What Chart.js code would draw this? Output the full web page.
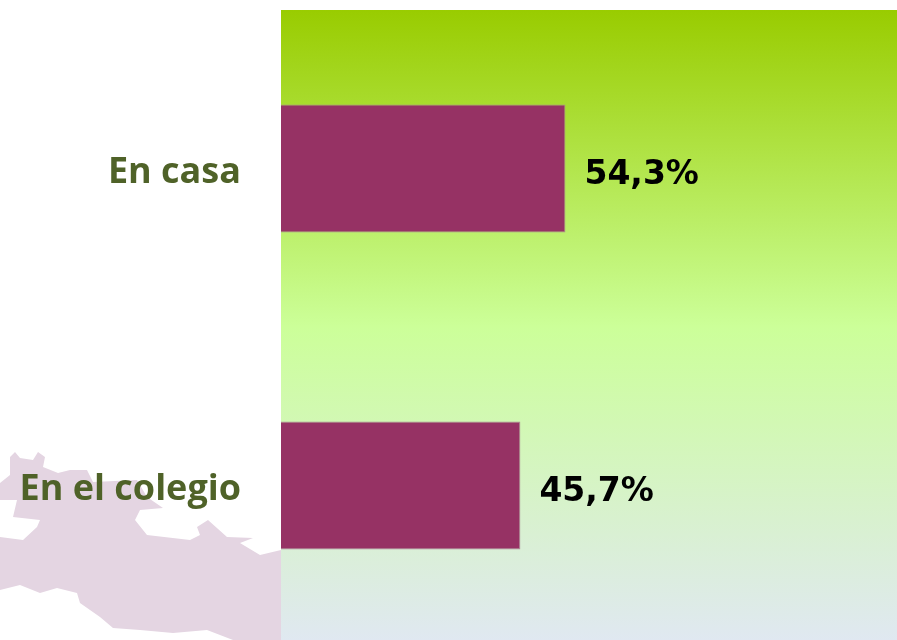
<!DOCTYPE html>
<html lang="es">
<head>
<meta charset="utf-8">
<style>
html,body{margin:0;padding:0;background:#fff;overflow:hidden;width:897px;height:640px}
#wrap{position:relative;width:897px;height:644px}
canvas{display:block}
</style>
<script src="https://cdn.jsdelivr.net/npm/chart.js@4"></script>
</head>
<body>
<div id="wrap"><canvas id="c" width="897" height="644"></canvas></div>
<script>
const categories = ["En casa", "En el colegio"];
const percentages = [54.3, 45.7];

// Decorative map silhouette behind the left labels (page pixels, not data)
const mapOutline = [
  [0,483],[10,475],[10,457],[15,452],[20,458],[33,460],[38,452],[45,457],[43,467],[53,471],
  [58,473],[70,470],[87,470],[93,482],[137,480],[147,497],[163,508],[140,510],[135,520],
  [147,535],[190,540],[200,535],[197,527],[208,520],[227,537],[253,538],[240,543],[260,555],
  [281,550],[281,640],[233,640],[207,630],[173,633],[140,630],[113,628],[100,617],[80,603],
  [77,593],[57,588],[40,593],[20,585],[0,590],[0,537],[23,540],[37,527],[40,520],[13,517],
  [17,500],[0,500]
];

const backdrop = {
  id: "backdrop",
  beforeDraw(chart) {
    const { ctx, chartArea: a } = chart;
    ctx.save();
    ctx.fillStyle = "#E4D5E2";
    ctx.beginPath();
    mapOutline.forEach(([x, y], i) => i ? ctx.lineTo(x, y) : ctx.moveTo(x, y));
    ctx.closePath();
    ctx.fill();
    const g = ctx.createLinearGradient(0, a.top, 0, a.bottom);
    g.addColorStop(0, "#99CC00");
    g.addColorStop(0.5, "#CCFF99");
    g.addColorStop(1, "#E0E8F2");
    ctx.fillStyle = g;
    ctx.fillRect(a.left, a.top, a.right - a.left, a.bottom - a.top);
    ctx.restore();
  }
};

const valueLabels = {
  id: "valueLabels",
  afterDatasetsDraw(chart) {
    const { ctx } = chart;
    ctx.save();
    ctx.font = "bold 33px 'DejaVu Sans'";
    ctx.fillStyle = "#000";
    ctx.textAlign = "left";
    ctx.textBaseline = "middle";
    chart.getDatasetMeta(0).data.forEach((bar, i) => {
      ctx.fillText(percentages[i].toFixed(1).replace(".", ",") + "%", bar.x + 19, bar.y + 7);
    });
    ctx.restore();
  }
};

new Chart(document.getElementById("c"), {
  type: "bar",
  plugins: [backdrop, valueLabels],
  data: {
    labels: categories,
    datasets: [{
      data: percentages,
      backgroundColor: "#963264",
      borderColor: "#A88A94",
      borderWidth: 1,
      categoryPercentage: 1,
      barPercentage: 0.404
    }]
  },
  options: {
    indexAxis: "y",
    responsive: false,
    animation: false,
    layout: { padding: { top: 10, left: 0, right: 0, bottom: 0 } },
    plugins: { legend: { display: false }, tooltip: { enabled: false } },
    scales: {
      x: { display: false, min: 0, max: 117.6 },
      y: {
        afterFit(s) { s.width = 281; s.paddingTop = 0; s.paddingBottom = 0; },
        grid: { display: false, drawTicks: false },
        border: { display: false },
        ticks: {
          color: "#4F6228",
          font: { family: "'Open Sans'", weight: "bold", size: 36 },
          padding: 40,
          labelOffset: 4,
          autoSkip: false
        }
      }
    }
  }
});
</script>
</body>
</html>
